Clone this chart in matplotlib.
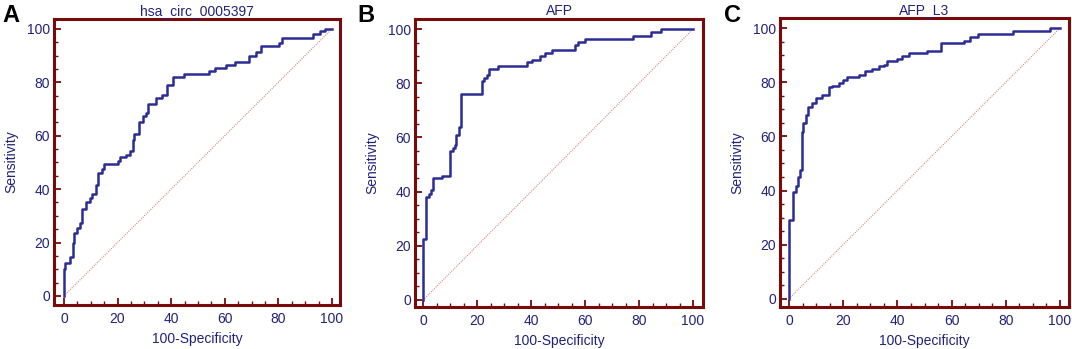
import matplotlib.pyplot as plt
from matplotlib.ticker import MultipleLocator

plt.rcParams['font.family'] = ['Liberation Sans', 'DejaVu Sans']

# ROC step vertices (100-Specificity, Sensitivity)
circ_fpr = [0, 0, 0.5, 2.4, 3.4, 3.9, 4.9, 5.9, 6.6, 8.4, 9.9, 10.3, 12.1, 12.8, 14.1, 14.8,
            20.3, 20.8, 23.3, 24.8, 25.8, 26.3, 28.1, 29.6, 30.5, 31.5, 34.5, 36.5, 38.5,
            40.8, 44.8, 54.2, 56.4, 60.5, 64, 69.2, 71.7, 73.4, 80.4, 81.2, 93.1, 95.6, 97.5, 100]
circ_tpr = [0, 10, 12.3, 14.4, 20, 23.5, 25.6, 27.2, 32.5, 35, 36.6, 38.2, 41.6, 46, 47.5, 49.5,
            50.7, 51.9, 52.9, 54.1, 58.5, 60.6, 65, 67.2, 68.5, 71.9, 74.1, 75.4, 78.8,
            81.9, 83.2, 84.4, 85.4, 86.6, 87.7, 90, 91.2, 93.5, 94.7, 96.6, 97.9, 99.1, 100, 100]

afp_fpr = [0, 0, 0.9, 2.1, 3.1, 3.7, 7.0, 10.1, 11, 11.7, 12.3, 13.2, 13.9, 21.8, 22.5, 23.5,
           24.3, 27.6, 38.4, 40.3, 43.3, 45, 47.7, 56.3, 57.3, 60, 77.6, 84.5, 88.3, 100]
afp_tpr = [0, 22.4, 37.9, 39.2, 40.4, 45, 45.8, 54.8, 56, 57.3, 61, 63.8, 76.1, 80.9, 81.9, 83.1,
           85.2, 86.5, 87.7, 88.7, 89.9, 91.1, 92.1, 94.2, 95.3, 96.3, 97.5, 98.9, 100, 100]

l3_fpr = [0, 0, 1.6, 2.5, 3.4, 3.9, 4.7, 5.2, 6.4, 7.1, 8.6, 9.8, 12.3, 14.7, 16, 18.4, 19.9,
          21.5, 25.8, 28.2, 30.7, 33.1, 35, 36.2, 39.9, 41.7, 44.2, 50.9, 56.2, 64.4, 66.9,
          69.9, 82.8, 96.3, 100]
l3_tpr = [0, 29.2, 39.3, 41.5, 45, 47.7, 61.5, 65.1, 68, 70.8, 72.3, 74.1, 75.4, 78.2, 78.7,
          79.7, 80.9, 81.9, 82.8, 84.2, 84.9, 85.8, 86.5, 87.7, 88.5, 89.5, 90.8, 91.7, 94.5,
          95.1, 96.7, 97.8, 98.8, 100, 100]

titles = ['hsa_circ_0005397', 'AFP', 'AFP_L3']
letters = ['A', 'B', 'C']
curves = [(circ_fpr, circ_tpr), (afp_fpr, afp_tpr), (l3_fpr, l3_tpr)]

W, H = 1072, 349
# frame boxes in pixels: left, right, top, bottom, and xlim / ylim
boxes = [(54, 340, 19, 305, (-3.7, 103.0), (-3.4, 103.7)),
         (415, 703, 19, 307, (-3.0, 103.7), (-2.6, 103.7)),
         (780, 1069, 18, 307, (-3.3, 103.3), (-3.0, 103.7))]
letter_x = [2, 357, 724]

text_col = '#22227a'
frame_col = '#7a0a0a'
curve_col = '#2b2d94'
diag_col = '#d48a8a'

fig = plt.figure(figsize=(W / 100, H / 100), dpi=100)

for i in range(3):
    l, r, t, b, xl, yl = boxes[i]
    ax = fig.add_axes([l / W, (H - b) / H, (r - l) / W, (b - t) / H])
    fpr, tpr = curves[i]
    ax.plot([0, 100], [0, 100], color=diag_col, lw=0.8, ls=(0, (1, 1)))
    ax.plot(fpr, tpr, drawstyle='steps-post', color=curve_col, lw=1.8)
    ax.set_xlim(*xl)
    ax.set_ylim(*yl)
    ax.xaxis.set_major_locator(MultipleLocator(20))
    ax.yaxis.set_major_locator(MultipleLocator(20))
    ax.xaxis.set_minor_locator(MultipleLocator(5))
    ax.yaxis.set_minor_locator(MultipleLocator(5))
    ax.tick_params(which='major', direction='in', length=5, width=1.3, color=frame_col,
                   labelcolor=text_col, labelsize=10, pad=5)
    ax.tick_params(which='minor', direction='in', length=3, width=1.0, color=frame_col)
    ax.tick_params(axis='y', which='major', pad=3)
    for s in ax.spines.values():
        s.set_color(frame_col)
        s.set_linewidth(2.2)
    ax.set_xlabel('100-Specificity', color=text_col, fontsize=10, labelpad=4)
    ax.set_ylabel('Sensitivity', color=text_col, fontsize=10, labelpad=6)
    ax.set_title(titles[i], color=text_col, fontsize=10, pad=3)
    fig.text(letter_x[i] / W, 1 - 15 / H, letters[i], fontsize=17, fontweight='bold',
             color='black', ha='left', va='center')

fig.savefig('out.png', dpi=100)
